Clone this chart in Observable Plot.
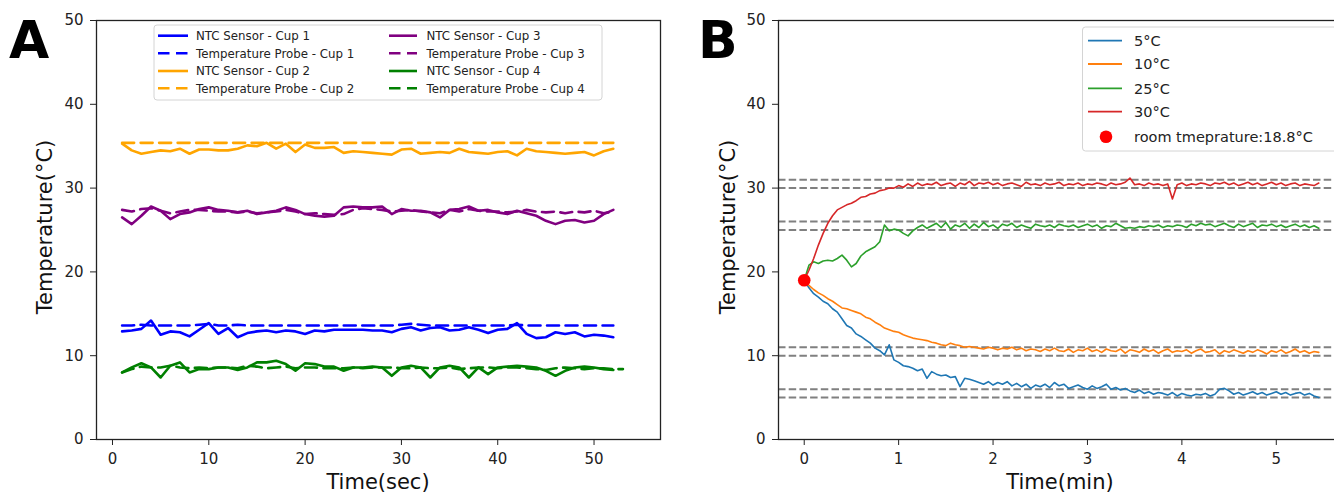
<!DOCTYPE html>
<html>
<head>
<meta charset="utf-8">
<script src="https://cdn.jsdelivr.net/npm/d3@7"></script>
<script src="https://cdn.jsdelivr.net/npm/@observablehq/plot@0.6"></script>
<style>
  html, body { margin: 0; padding: 0; background: #fff; }
  body { width: 1334px; height: 493px; overflow: hidden; position: relative; font-family: "DejaVu Sans", sans-serif; }
  .panel { position: absolute; top: 0; }
  #overlay { position: absolute; left: 0; top: 0; pointer-events: none; }
</style>
</head>
<body>
<div id="panelA" class="panel" style="left:0px;width:680px"></div>
<div id="panelB" class="panel" style="left:680px;width:674px"></div>
<svg id="overlay" width="1334" height="493"></svg>
<script>
// ---------------- Panel A data (Time in sec) ----------------
const timeA = [1,2,3,4,5,6,7,8,9,10,11,12,13,14,15,16,17,18,19,20,21,22,23,24,25,26,27,28,29,30,31,32,33,34,35,36,37,38,39,40,41,42,43,44,45,46,47,48,49,50,51,52];
const timeA53 = [1,2,3,4,5,6,7,8,9,10,11,12,13,14,15,16,17,18,19,20,21,22,23,24,25,26,27,28,29,30,31,32,33,34,35,36,37,38,39,40,41,42,43,44,45,46,47,48,49,50,51,52,53];
const ntcCup1 = [12.9,13.0,13.2,14.2,12.5,12.9,12.8,12.3,13.1,13.9,12.6,13.3,12.2,12.7,12.9,13.0,12.8,13.0,12.9,12.6,13.0,12.9,13.1,13.1,13.1,13.1,13.0,13.0,12.8,13.2,13.4,13.0,13.3,13.4,13.0,13.1,13.4,13.1,12.7,13.1,13.2,13.9,12.6,12.1,12.2,12.8,12.6,12.8,12.3,12.5,12.4,12.2];
const probeCup1 = [13.6,13.6,13.7,13.6,13.6,13.6,13.6,13.6,13.7,13.8,13.6,13.6,13.7,13.6,13.6,13.6,13.6,13.6,13.6,13.6,13.6,13.6,13.6,13.6,13.6,13.6,13.6,13.6,13.6,13.7,13.8,13.7,13.6,13.6,13.6,13.6,13.6,13.6,13.6,13.6,13.6,13.7,13.6,13.6,13.6,13.6,13.6,13.6,13.6,13.6,13.6,13.6];
const ntcCup2 = [35.3,34.5,34.1,34.3,34.5,34.4,34.7,34.1,34.6,34.6,34.5,34.5,34.7,35.1,35.0,35.4,34.7,35.3,34.3,35.2,34.8,34.8,34.9,34.2,34.4,34.3,34.2,34.1,34.0,34.6,34.7,34.1,34.2,34.3,34.2,34.7,34.3,34.2,34.1,34.3,34.4,33.9,34.7,34.4,34.3,34.2,34.1,34.2,34.3,33.9,34.4,34.7];
const probeCup2 = [35.4,35.4,35.4,35.4,35.4,35.4,35.4,35.4,35.4,35.4,35.4,35.4,35.4,35.4,35.4,35.4,35.4,35.4,35.4,35.4,35.4,35.4,35.4,35.4,35.4,35.4,35.4,35.4,35.4,35.4,35.4,35.4,35.4,35.4,35.4,35.4,35.4,35.4,35.4,35.4,35.4,35.4,35.4,35.4,35.4,35.4,35.4,35.4,35.4,35.4,35.4,35.4];
const ntcCup3 = [26.5,25.7,26.7,27.8,27.3,26.3,26.9,27.1,27.5,27.7,27.4,27.3,27.1,27.3,26.9,27.1,27.3,27.7,27.4,26.9,26.7,26.6,26.7,27.7,27.8,27.7,27.7,27.8,26.9,27.5,27.3,27.3,27.1,26.5,27.4,27.5,27.8,27.3,27.4,27.1,26.9,27.3,27.0,26.7,26.1,25.7,26.1,26.2,25.9,26.1,26.9,27.4];
const probeCup3 = [27.4,27.2,27.5,27.6,27.3,27.0,27.2,27.4,27.4,27.3,27.2,27.2,27.1,27.2,27.0,27.1,27.2,27.4,27.2,26.9,27.0,26.9,26.8,26.9,27.4,27.6,27.5,27.4,27.2,27.3,27.4,27.2,27.1,27.0,27.4,27.2,27.5,27.3,27.2,27.2,27.1,27.2,27.4,27.2,27.1,27.2,27.0,27.2,27.1,27.3,27.0,27.2];
const ntcCup4 = [8.0,8.6,9.1,8.6,7.4,8.8,9.2,8.0,8.4,8.4,8.6,8.6,8.3,8.6,9.2,9.2,9.4,9.0,8.2,9.1,9.0,8.7,8.7,8.2,8.6,8.6,8.7,8.6,7.6,8.6,8.8,8.6,7.4,8.6,8.8,8.6,7.4,8.6,7.8,8.6,8.7,8.8,8.7,8.6,8.2,7.6,8.2,8.6,8.7,8.6,8.4,8.3];
const probeCup4 = [8.0,8.4,8.7,8.6,8.6,8.8,8.6,8.5,8.6,8.5,8.6,8.6,8.5,8.8,8.7,8.5,8.6,8.7,8.5,8.6,8.6,8.5,8.5,8.5,8.6,8.5,8.6,8.6,8.6,8.5,8.5,8.6,8.5,8.5,8.6,8.4,8.5,8.6,8.6,8.5,8.6,8.6,8.5,8.4,8.3,8.5,8.6,8.5,8.4,8.5,8.5,8.4,8.4];

const legendA = ["NTC Sensor - Cup 1","Temperature Probe - Cup 1","NTC Sensor - Cup 2","Temperature Probe - Cup 2","NTC Sensor - Cup 3","Temperature Probe - Cup 3","NTC Sensor - Cup 4","Temperature Probe - Cup 4"];
const colorsA = ["#0000ff","#0000ff","#ffa500","#ffa500","#800080","#800080","#008000","#008000"];
const dashedA = [false,true,false,true,false,true,false,true];
const timesA = [timeA,timeA,timeA,timeA,timeA,timeA,timeA,timeA53];
const valuesA = [ntcCup1,probeCup1,ntcCup2,probeCup2,ntcCup3,probeCup3,ntcCup4,probeCup4];

const yTicks = [0,10,20,30,40,50];
const xTicksA = [0,10,20,30,40,50];
const xTicksB = [0,1,2,3,4,5];

// ---------------- Panel B data (Time in min) ----------------
const timeB = [0,0.05,0.1,0.15,0.2,0.25,0.3,0.35,0.4,0.45,
0.5,0.55,0.6,0.65,0.7,0.75,0.8,0.85,0.9,0.95,
1,1.05,1.1,1.15,1.2,1.25,1.3,1.35,1.4,1.45,
1.5,1.55,1.6,1.65,1.7,1.75,1.8,1.85,1.9,1.95,
2,2.05,2.1,2.15,2.2,2.25,2.3,2.35,2.4,2.45,
2.5,2.55,2.6,2.65,2.7,2.75,2.8,2.85,2.9,2.95,
3,3.05,3.1,3.15,3.2,3.25,3.3,3.35,3.4,3.45,
3.5,3.55,3.6,3.65,3.7,3.75,3.8,3.85,3.9,3.95,
4,4.05,4.1,4.15,4.2,4.25,4.3,4.35,4.4,4.45,
4.5,4.55,4.6,4.65,4.7,4.75,4.8,4.85,4.9,4.95,
5,5.05,5.1,5.15,5.2,5.25,5.3,5.35,5.4,5.45];
const temp5 = [19.0,18.1,17.4,17.0,16.5,16.2,15.6,15.2,14.4,13.6,
13.3,12.6,12.3,11.9,11.5,10.9,10.6,10.1,11.3,9.5,
9.2,8.8,8.7,8.5,8.2,8.4,7.3,8.1,7.8,7.6,
7.7,7.4,7.5,6.3,7.3,7.2,7.0,6.8,6.6,6.9,
6.5,6.8,6.6,6.9,6.4,6.7,6.3,6.6,6.1,6.5,
6.3,6.6,6.2,6.8,6.4,6.6,6.1,6.3,6.5,6.2,
6.0,6.4,6.1,6.3,6.6,6.0,6.2,5.9,6.1,5.8,
5.6,5.9,5.5,5.7,5.4,5.6,5.5,5.3,5.6,5.2,
5.5,5.3,5.2,5.4,5.3,5.5,5.2,5.4,6.0,6.1,
5.8,5.4,5.6,5.3,5.5,5.7,5.4,5.6,5.3,5.5,
5.7,5.4,5.6,5.3,5.5,5.6,5.3,5.5,5.2,5.0];
const temp10 = [19.0,18.4,17.9,17.5,17.2,16.8,16.5,16.1,15.7,15.6,
15.4,15.2,15.0,14.6,14.4,14.0,13.7,13.3,13.1,12.9,
12.8,12.5,12.3,12.1,12.0,11.9,11.8,11.6,11.5,11.3,
11.2,11.5,11.3,11.2,11.0,11.1,11.0,10.9,10.8,11.0,
10.9,10.7,10.9,10.8,11.0,10.7,10.9,10.6,10.8,10.7,
10.5,10.8,10.6,10.9,10.6,10.5,10.8,10.4,10.7,10.6,
10.9,10.5,10.7,10.4,10.8,10.6,10.5,10.8,10.3,10.7,
10.6,10.4,10.8,10.5,10.7,10.3,10.6,10.8,10.4,10.6,
10.5,10.7,10.3,10.6,10.8,10.4,10.5,10.7,10.2,10.6,
10.4,10.7,10.5,10.3,10.6,10.4,10.7,10.5,10.2,10.6,
10.4,10.7,10.3,10.5,10.8,10.4,10.6,10.3,10.5,10.4];
const temp25 = [19.0,20.8,21.2,21.0,21.3,21.4,21.3,21.6,22.0,21.4,
20.6,21.0,21.9,22.4,22.7,23.0,23.6,25.6,24.9,25.1,
25.0,24.6,24.3,24.9,25.3,25.6,25.2,25.5,25.8,25.3,
25.9,25.1,25.6,25.4,25.8,25.2,25.7,25.3,25.9,25.4,
25.6,25.2,25.7,25.5,25.8,25.3,25.6,25.4,25.2,25.7,
25.5,25.4,25.6,25.3,25.7,25.5,25.4,25.6,25.3,25.5,
25.7,25.4,25.6,25.2,25.5,25.4,25.8,25.5,25.2,25.3,
25.2,25.4,25.3,25.5,25.4,25.6,25.3,25.5,25.4,25.6,
25.5,25.3,25.7,25.5,25.8,25.6,25.7,25.4,25.6,25.8,
25.5,25.3,25.7,25.4,25.6,25.8,25.3,25.6,25.5,25.7,
25.4,25.6,25.3,25.5,25.7,25.4,25.6,25.3,25.5,25.2];
const temp30 = [19.0,20.2,21.6,23.2,24.6,25.8,26.7,27.4,27.7,28.0,
28.2,28.5,28.9,29.0,29.3,29.4,29.7,29.8,30.0,30.0,
30.3,30.1,30.5,30.2,30.6,30.3,30.5,30.4,30.7,30.3,
30.5,30.6,30.2,30.6,30.4,30.8,30.3,30.6,30.5,30.7,
30.4,30.6,30.3,30.5,30.6,30.4,30.2,30.7,30.4,30.5,
30.3,30.6,30.4,30.5,30.7,30.3,30.5,30.4,30.6,30.3,
30.5,30.4,30.6,30.5,30.3,30.6,30.4,30.5,30.7,31.2,
30.4,30.5,30.3,30.6,30.4,30.5,30.3,30.5,28.7,30.4,
30.6,30.3,30.5,30.4,30.6,30.5,30.3,30.6,30.5,30.7,
30.4,30.6,30.3,30.5,30.7,30.4,30.6,30.3,30.5,30.7,
30.4,30.6,30.3,30.5,30.6,30.3,30.5,30.4,30.3,30.6];
const legendB = ["5°C","10°C","25°C","30°C"];
const colorsB = ["#1f77b4","#ff7f0e","#2ca02c","#d62728"];
const valuesB = [temp5,temp10,temp25,temp30];
const refLevels = [5,6,10,11,25,26,30,31];
const roomTime = [0];
const roomTemp = [19.0];
const roomLabel = "room tmeprature:18.8°C";

// ---------------- Build Panel A ----------------
const plotStyle = {fontFamily: "DejaVu Sans", fontSize: "15px", color: "#222", background: "transparent", overflow: "visible", maxWidth: "none"};
const intFormat = d => String(d);

const linesA = legendA.map((name, k) => {
  const rows = timesA[k].map((t, i) => ({t, v: valuesA[k][i]}));
  return Plot.line(rows, {x: "t", y: "v", stroke: colorsA[k], strokeWidth: 2.6,
    strokeDasharray: dashedA[k] ? "12,6.5" : null, strokeLinejoin: "round"});
});

const plotA = Plot.plot({
  width: 680, height: 493,
  marginLeft: 96, marginRight: 20, marginTop: 20, marginBottom: 54,
  x: {domain: [-1.66, 56.9]},
  y: {domain: [0, 50]},
  style: plotStyle,
  marks: [
    ...linesA,
    Plot.frame({stroke: "#222", strokeWidth: 1.3}),
    Plot.axisX({ticks: xTicksA, tickFormat: intFormat, tickSize: 6, tickPadding: 8, label: null, stroke: "#222"}),
    Plot.axisY({ticks: yTicks, tickFormat: intFormat, tickSize: 6, tickPadding: 7, label: null, stroke: "#222"})
  ]
});
document.getElementById("panelA").append(plotA);

// ---------------- Build Panel B ----------------
const linesB = legendB.map((name, k) => {
  const rows = timeB.map((t, i) => ({t, v: valuesB[k][i]}));
  return Plot.line(rows, {x: "t", y: "v", stroke: colorsB[k], strokeWidth: 1.6, strokeLinejoin: "round"});
});
const roomRows = roomTime.map((t, i) => ({t, v: roomTemp[i]}));

const plotB = Plot.plot({
  width: 674, height: 493,
  marginLeft: 98, marginRight: 10, marginTop: 20, marginBottom: 54,
  x: {domain: [-0.2725, 5.7225]},
  y: {domain: [0, 50]},
  style: plotStyle,
  marks: [
    Plot.ruleY(refLevels, {stroke: "#808080", strokeWidth: 2, strokeDasharray: "7.5,3.2"}),
    ...linesB,
    Plot.dot(roomRows, {x: "t", y: "v", r: 6.3, fill: "#ff0000", stroke: null}),
    Plot.frame({stroke: "#222", strokeWidth: 1.3}),
    Plot.axisX({ticks: xTicksB, tickFormat: intFormat, tickSize: 6, tickPadding: 8, label: null, stroke: "#222"}),
    Plot.axisY({ticks: yTicks, tickFormat: intFormat, tickSize: 6, tickPadding: 7, label: null, stroke: "#222"})
  ]
});
document.getElementById("panelB").append(plotB);

// ---------------- Overlay: panel letters, axis titles, legends ----------------
const ov = d3.select("#overlay");
const font = "DejaVu Sans";

ov.append("text").attr("x", 9).attr("y", 58).attr("font-family", font).attr("font-weight", "bold")
  .attr("font-size", 52).attr("fill", "#000").text("A");
ov.append("text").attr("x", 698).attr("y", 58).attr("font-family", font).attr("font-weight", "bold")
  .attr("font-size", 52).attr("fill", "#000").text("B");

function yTitle(x, y) {
  ov.append("text").attr("transform", `translate(${x},${y}) rotate(-90)`).attr("text-anchor", "middle")
    .attr("font-family", font).attr("font-size", 21).attr("fill", "#111").text("Temperature(°C)");
}
yTitle(52, 227);
yTitle(735, 227);
ov.append("text").attr("x", 378).attr("y", 489).attr("text-anchor", "middle").attr("font-family", font)
  .attr("font-size", 21).attr("fill", "#111").text("Time(sec)");
ov.append("text").attr("x", 1060).attr("y", 489).attr("text-anchor", "middle").attr("font-family", font)
  .attr("font-size", 21).attr("fill", "#111").text("Time(min)");

// Legend A
const lgA = ov.append("g");
lgA.append("rect").attr("x", 154).attr("y", 25).attr("width", 448).attr("height", 75).attr("rx", 3)
  .attr("fill", "#fff").attr("fill-opacity", 0.85).attr("stroke", "#d4d4d4").attr("stroke-width", 1);
const rowYA = [35.7, 53.3, 71, 88.3];
legendA.forEach((name, k) => {
  const col = Math.floor(k / 4), row = k % 4;
  const x0 = col === 0 ? 158 : 389, x1 = col === 0 ? 188 : 417, tx = col === 0 ? 196 : 426.5;
  const y = rowYA[row];
  lgA.append("line").attr("x1", x0).attr("x2", x1).attr("y1", y).attr("y2", y)
    .attr("stroke", colorsA[k]).attr("stroke-width", 2.6)
    .attr("stroke-dasharray", dashedA[k] ? "11.5,6.5" : null);
  lgA.append("text").attr("x", tx).attr("y", y + 4.3).attr("font-family", font).attr("font-size", 11.8)
    .attr("fill", "#222").text(name);
});

// Legend B
const lgB = ov.append("g");
lgB.append("rect").attr("x", 1082.5).attr("y", 27).attr("width", 270).attr("height", 124).attr("rx", 3)
  .attr("fill", "#fff").attr("fill-opacity", 0.85).attr("stroke", "#d4d4d4").attr("stroke-width", 1);
const rowYB = [40.7, 64, 88.3, 111.7, 136.7];
legendB.forEach((name, k) => {
  const y = rowYB[k];
  lgB.append("line").attr("x1", 1088).attr("x2", 1122).attr("y1", y).attr("y2", y)
    .attr("stroke", colorsB[k]).attr("stroke-width", 1.8);
  lgB.append("text").attr("x", 1134).attr("y", y + 5.2).attr("font-family", font).attr("font-size", 14.5)
    .attr("fill", "#222").text(name);
});
lgB.append("circle").attr("cx", 1106).attr("cy", rowYB[4]).attr("r", 6.3).attr("fill", "#ff0000");
lgB.append("text").attr("x", 1134).attr("y", rowYB[4] + 5.2).attr("font-family", font).attr("font-size", 14.5)
  .attr("fill", "#222").text(roomLabel);
</script>
</body>
</html>
